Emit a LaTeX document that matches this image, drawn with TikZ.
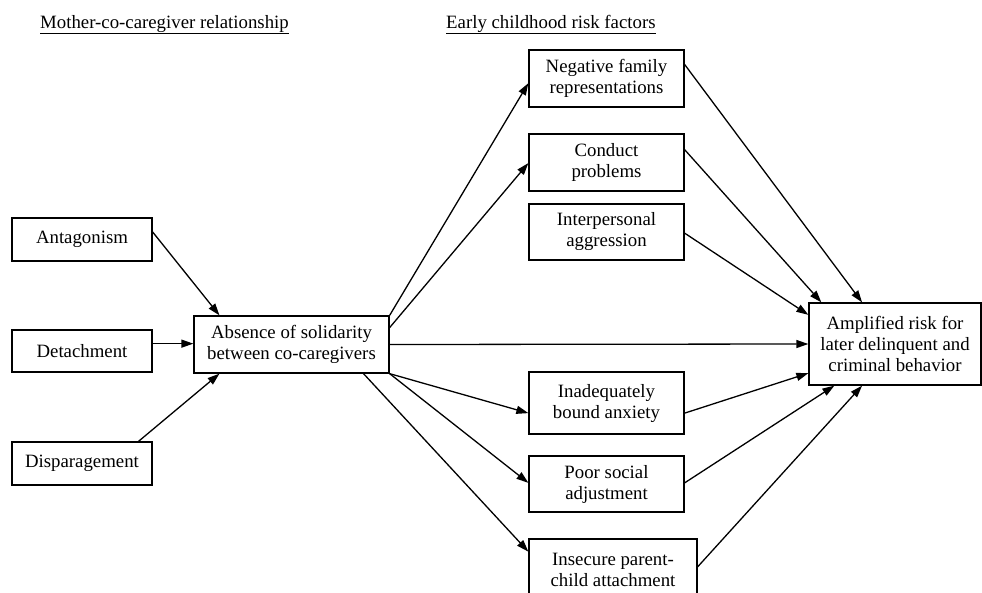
\documentclass[tikz,border=0pt]{standalone}
\usepackage{fontspec}
\setmainfont{Liberation Serif}
\usetikzlibrary{arrows.meta,calc}
\begin{document}
\begin{tikzpicture}[x=1pt,y=-1pt,
  box/.style={draw,line width=1.3pt,align=center,inner sep=2pt,
    font=\fontsize{18.8}{21}\selectfont},
  heading/.style={anchor=base west,inner sep=0pt,font=\fontsize{18.8}{21}\selectfont},
  conn/.style={line width=1.3pt,-{Triangle[length=12pt,width=8pt]}}]
\useasboundingbox (0,0) rectangle (982,592);
% headings
\node[heading] (h1) at (40,28) {\underline{Mother-co-caregiver relationship}};
\node[heading] (h2) at (446,28) {\underline{Early childhood risk factors}};
% left column
\node[box,minimum width=140pt,minimum height=43pt] (ant) at (82,239.5) {Antagonism};
\node[box,minimum width=140pt,minimum height=42pt] (det) at (82,351) {Detachment};
\node[box,minimum width=140pt,minimum height=43pt] (dis) at (82,463.5) {Disparagement};
% centre
\node[box,minimum width=195pt,minimum height=57pt] (abs) at (291.5,344.5) {Absence of solidarity\\between co-caregivers};
% risk factors
\node[box,minimum width=155pt,minimum height=57pt] (neg) at (606.5,78.5) {Negative family\\representations};
\node[box,minimum width=155pt,minimum height=57pt] (con) at (606.5,162.5) {Conduct\\problems};
\node[box,minimum width=155pt,minimum height=56pt] (int) at (606.5,232) {Interpersonal\\aggression};
\node[box,minimum width=155pt,minimum height=62pt] (ina) at (606.5,403) {Inadequately\\bound anxiety};
\node[box,minimum width=155pt,minimum height=56pt] (poo) at (606.5,484) {Poor social\\adjustment};
\node[box,minimum width=168pt,minimum height=62pt] (ins) at (613,570) {Insecure parent-\\child attachment};
% outcome
\node[box,minimum width=172pt,minimum height=82pt] (amp) at (895,344) {Amplified risk for\\later delinquent and\\criminal behavior};
% connectors into centre
\draw[conn] ($(ant.north east)!0.33!(ant.south east)$) -- ($(abs.north west)!0.133!(abs.north east)$);
\draw[conn] ($(det.north east)!0.33!(det.south east)$) -- (abs.west |- {$(det.north east)!0.33!(det.south east)$});
\draw[conn] ($(dis.north west)!0.9!(dis.north east)$) -- ($(abs.south west)!0.133!(abs.south east)$);
% from centre
\draw[conn] (abs.north east) -- ($(neg.north west)!0.58!(neg.south west)$);
\draw[conn] ($(abs.north east)!0.21!(abs.south east)$) -- ($(con.north west)!0.51!(con.south west)$);
\draw[conn] (abs.east) -- (amp.west);
\draw[conn] (abs.south east) -- ($(ina.north west)!0.66!(ina.south west)$);
\draw[conn] (abs.south east) -- ($(poo.north west)!0.48!(poo.south west)$);
\draw[conn] ($(abs.south west)!0.867!(abs.south east)$) -- ($(ins.north west)!0.21!(ins.south west)$);
% into outcome
\draw[conn] ($(neg.north east)!0.26!(neg.south east)$) -- ($(amp.north west)!0.31!(amp.north east)$);
\draw[conn] ($(con.north east)!0.28!(con.south east)$) -- ($(amp.north west)!0.075!(amp.north east)$);
\draw[conn] ($(int.north east)!0.52!(int.south east)$) -- ($(amp.north west)!0.15!(amp.south west)$);
\draw[conn] ($(ina.north east)!0.66!(ina.south east)$) -- ($(amp.north west)!0.85!(amp.south west)$);
\draw[conn] ($(poo.north east)!0.48!(poo.south east)$) -- ($(amp.south west)!0.15!(amp.south east)$);
\draw[conn] ($(ins.north east)!0.45!(ins.south east)$) -- ($(amp.south west)!0.31!(amp.south east)$);
\end{tikzpicture}
\end{document}
